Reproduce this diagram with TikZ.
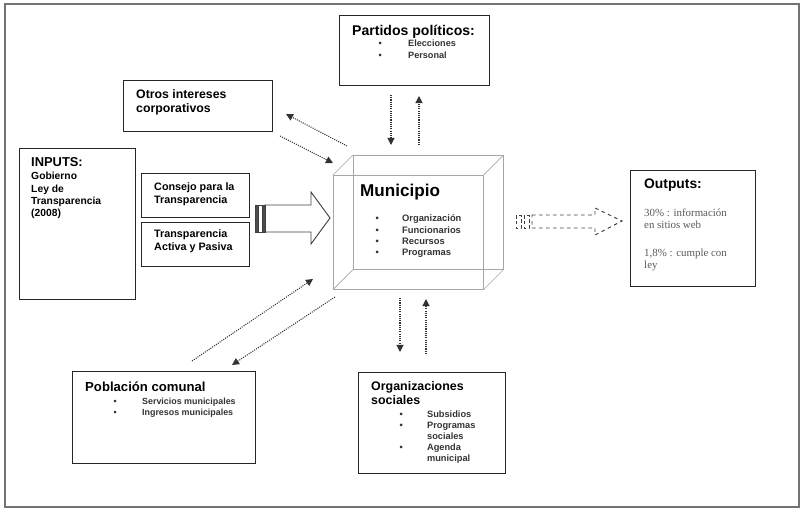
\documentclass[tikz,border=0pt]{standalone}
\usepackage{fontspec}
\setmainfont{Liberation Sans}
\newfontfamily\outserif{Liberation Serif}
\usetikzlibrary{arrows.meta}

\newcommand{\fsz}[2]{\fontsize{#1}{#2}\selectfont}

\begin{document}
\begin{tikzpicture}[x=0.03cm, y=-0.03cm,
    box/.style={draw=black!85, line width=1.1pt, anchor=north west, inner sep=0pt},
    cube/.style={draw=black!35, line width=0.5pt},
    txt/.style={anchor=base west, inner sep=0pt, align=left, font=\bfseries},
    item/.style={anchor=base west, inner sep=0pt, text=black!80},
    flow/.style={densely dotted, line width=0.9pt, black!80, -{Triangle[length=6pt,width=6pt]}}]
    \useasboundingbox (0,0) rectangle (800,508);
    \draw[black!55, line width=1.5pt] (5,4) rectangle (799,507);

    % boxes
    \node[box, minimum width=4.5cm, minimum height=2.1cm] (partidos) at (339,15) {};
    \node[box, minimum width=4.47cm, minimum height=1.53cm] (otros) at (123,80) {};
    \node[box, minimum width=3.48cm, minimum height=4.53cm] (inputs) at (19,148) {};
    \node[box, minimum width=3.24cm, minimum height=1.32cm] (consejo) at (141,173) {};
    \node[box, minimum width=3.24cm, minimum height=1.32cm] (activa) at (141,222) {};
    \node[box, minimum width=3.75cm, minimum height=3.48cm] (outputs) at (630,170) {};
    \node[box, minimum width=5.49cm, minimum height=2.76cm] (poblacion) at (72,371) {};
    \node[box, minimum width=4.41cm, minimum height=3.03cm] (orgsoc) at (358,372) {};

    % municipio cube
    \node[cube, anchor=north west, inner sep=0pt, minimum width=4.5cm, minimum height=3.42cm] (muni) at (333,175) {};
    \draw[cube] ([shift={(20,-20)}]muni.north west) rectangle ([shift={(20,-20)}]muni.south east);
    \foreach \c in {north west, north east, south west, south east}
        \draw[cube] (muni.\c) -- ++(20,-20);

    % texts (multi-line ones sit on their last baseline)
    \node[txt, font=\bfseries\fsz{12}{14}] (partidosT) at (352,36) {Partidos políticos:};
    \node[item, font=\bfseries\fsz{7.8}{10.2}] (partidosL) at (378.5,47)
        {\begin{tabular}[t]{@{}l@{\hspace{22.4pt}}l@{}}\textbullet & Elecciones\\ \textbullet & Personal\end{tabular}};

    \node[txt, font=\bfseries\fsz{10.5}{12.8}] (otrosT) at (136,113) {Otros intereses\\corporativos};

    \node[txt, font=\bfseries\fsz{11}{12}] (inputsT) at (31,167) {INPUTS:};
    \node[txt, font=\bfseries\fsz{8.8}{10.6}] (inputsL) at (31,217) {Gobierno\\Ley de\\Transparencia\\(2008)};

    \node[txt, font=\bfseries\fsz{9.2}{11.6}] (consejoT) at (154,204) {Consejo para la\\Transparencia};
    \node[txt, font=\bfseries\fsz{9.2}{11.6}] (activaT) at (154,251) {Transparencia\\Activa y Pasiva};

    \node[txt, font=\bfseries\fsz{14.6}{16}] (muniT) at (360,197) {Municipio};
    \node[item, font=\bfseries\fsz{8}{9.6}] (muniL) at (375.5,222)
        {\begin{tabular}[t]{@{}l@{\hspace{19.7pt}}l@{}}\textbullet & Organización\\ \textbullet & Funcionarios\\
         \textbullet & Recursos\\ \textbullet & Programas\end{tabular}};

    \node[txt, font=\bfseries\fsz{11.8}{13}] (outputsT) at (644,189) {Outputs:};
    \node[txt, font=\outserif\fsz{9.3}{10.6}, text=black!65] (outputsL) at (644,269)
        {30\% : información\\en sitios web\\[13pt]1,8\% : cumple con\\ley};

    \node[txt, font=\bfseries\fsz{11.2}{13}] (poblacionT) at (85,392) {Población comunal};
    \node[item, font=\bfseries\fsz{7.6}{10.2}] (poblacionL) at (113.5,404)
        {\begin{tabular}[t]{@{}l@{\hspace{21.6pt}}l@{}}\textbullet & Servicios municipales\\ \textbullet & Ingresos municipales\end{tabular}};

    \node[txt, font=\bfseries\fsz{10.6}{11.5}] (orgsocT) at (371,404) {Organizaciones\\sociales};
    \node[item, font=\bfseries\fsz{7.9}{9.6}] (orgsocL) at (399.5,417)
        {\begin{tabular}[t]{@{}l@{\hspace{20.6pt}}l@{}}\textbullet & Subsidios\\ \textbullet & Programas\\ & sociales\\
         \textbullet & Agenda\\ & municipal\end{tabular}};

    % big input arrow
    \draw[black!75, line width=0.8pt] (265,205) -- (311,205) -- (311,192) -- (330,218) -- (311,244) -- (311,232) -- (265,232) -- cycle;
    \draw[black!75, fill=black!70] (255,205) rectangle (258,232);
    \draw[black!75] (258,205) rectangle (262,232);
    \draw[black!75, fill=black!70] (262,205) rectangle (265,232);

    % output arrow
    \draw[black!75, dashed, line width=0.8pt] (532,215) -- (595,215) -- (595,208) -- (622,221) -- (595,235) -- (595,228) -- (532,228) -- cycle;
    \draw[black!75, densely dashed] (516,215) rectangle (521,228);
    \draw[black!75, densely dashed] (524,215) rectangle (529,228);

    % connector ends
    \coordinate (pd1) at (391,95);  \coordinate (pd2) at (391,145);
    \coordinate (pu1) at (419,145); \coordinate (pu2) at (419,96);
    \coordinate (ou1) at (347,146); \coordinate (ou2) at (286,114);
    \coordinate (od1) at (280,136); \coordinate (od2) at (333,163);
    \coordinate (cu1) at (192,361); \coordinate (cu2) at (313,279);
    \coordinate (cd1) at (335,297); \coordinate (cd2) at (232,365);
    \coordinate (sd1) at (400,298); \coordinate (sd2) at (400,352);
    \coordinate (su1) at (426,354); \coordinate (su2) at (426,299);

    \draw[flow] (pd1) -- (pd2);
    \draw[flow] (pu1) -- (pu2);
    \draw[flow] (ou1) -- (ou2);
    \draw[flow] (od1) -- (od2);
    \draw[flow] (cu1) -- (cu2);
    \draw[flow] (cd1) -- (cd2);
    \draw[flow] (sd1) -- (sd2);
    \draw[flow] (su1) -- (su2);
\end{tikzpicture}
\end{document}
